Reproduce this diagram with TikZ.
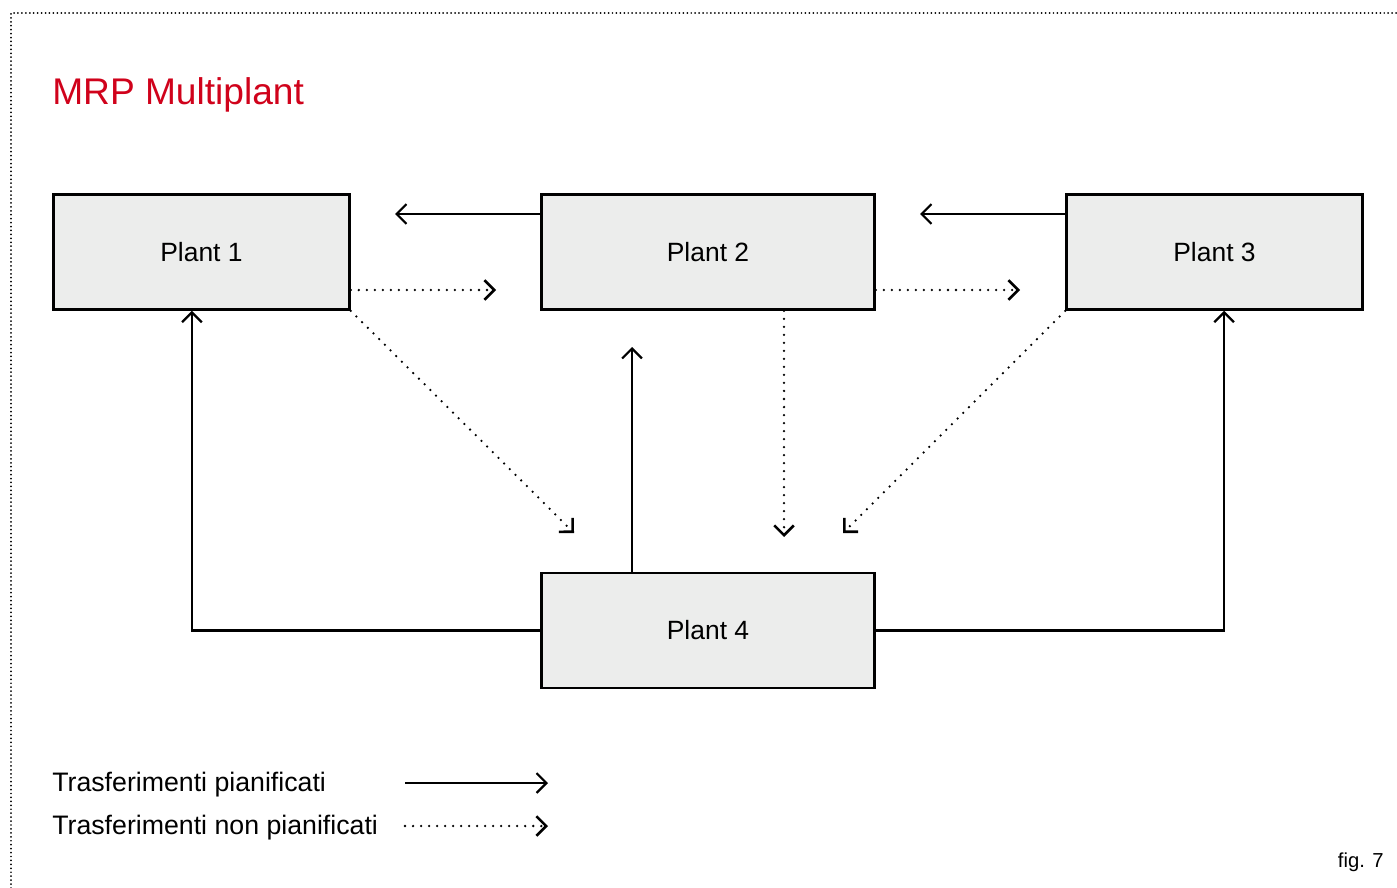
\documentclass[tikz,border=0pt]{standalone}
\usepackage{fontspec}
\setmainfont{Liberation Sans}
\usetikzlibrary{arrows.meta}
\definecolor{mrpred}{RGB}{208,2,27}
\definecolor{plantgray}{RGB}{236,237,236}
\begin{document}
\begin{tikzpicture}[x=0.025cm,y=-0.025cm,
        plant/.style={draw,line width=2pt,fill=plantgray,minimum height=2.87cm,inner sep=0pt,font=\fontsize{18.8}{22}\selectfont},
        planned/.style={line width=1.6pt,-{Straight Barb[length=7pt,width=14pt]}},
        unplanned/.style={planned,line width=1.8pt,line cap=round,dash pattern=on 0pt off 5.7pt},
        frame/.style={line width=1.4pt,line cap=round,dash pattern=on 0pt off 2.8pt},
        legend/.style={anchor=base west,inner sep=0pt,font=\fontsize{19}{22}\selectfont}]
    \useasboundingbox (0,0) rectangle (1397,888);
    \draw[frame] (11,888) -- (11,13) -- (1397,13);
    \node[anchor=base west,inner sep=0pt,text=mrpred,font=\fontsize{26.4}{30}\selectfont] (title) at (52,104) {MRP Multiplant};
    % plants
    \node[plant,minimum width=7.39cm] (plant1) at (201.5,252) {Plant 1};
    \node[plant,minimum width=8.32cm] (plant2) at (708,252) {Plant 2};
    \node[plant,minimum width=7.39cm] (plant3) at (1214.5,252) {Plant 3};
    \node[plant,minimum width=8.32cm] (plant4) at (708,630.5) {Plant 4};
    % free ends
    \coordinate (to1) at (395,214);
    \coordinate (to2) at (920,214);
    \coordinate (from1) at (496,290);
    \coordinate (from2) at (1020,290);
    \coordinate (diag1) at (574,533);
    \coordinate (down2) at (784,537);
    \coordinate (diag3) at (843,533);
    \coordinate (up2) at (632,347);
    % planned transfers
    \draw[planned] (plant2.west |- to1) -- (to1);
    \draw[planned] (plant3.west |- to2) -- (to2);
    \draw[planned] (plant4.north -| up2) -- (up2);
    \draw[planned] (plant4.west) -| ([xshift=-0.24cm]plant1.south);
    \draw[planned] (plant4.east) -| ([xshift=0.24cm]plant3.south);
    % unplanned transfers
    \draw[unplanned] (plant1.east |- from1) -- (from1);
    \draw[unplanned] (plant2.east |- from2) -- (from2);
    \draw[unplanned] (plant1.south east) -- (diag1);
    \draw[unplanned] (plant2.south -| down2) -- (down2);
    \draw[unplanned] (plant3.south west) -- (diag3);
    % legend
    \node[legend] (legplan) at (52,791) {Trasferimenti pianificati};
    \node[legend] (legunplan) at (52,834) {Trasferimenti non pianificati};
    \coordinate (plana) at (405,783);
    \coordinate (planb) at (548,783);
    \coordinate (unplana) at (405,826);
    \coordinate (unplanb) at (548,826);
    \draw[planned] (plana) -- (planb);
    \draw[unplanned] (unplana) -- (unplanb);
    \node[anchor=base east,inner sep=0pt,font=\fontsize{14.4}{17}\selectfont] (fig) at (1384,867) {fig. 7};
\end{tikzpicture}
\end{document}
